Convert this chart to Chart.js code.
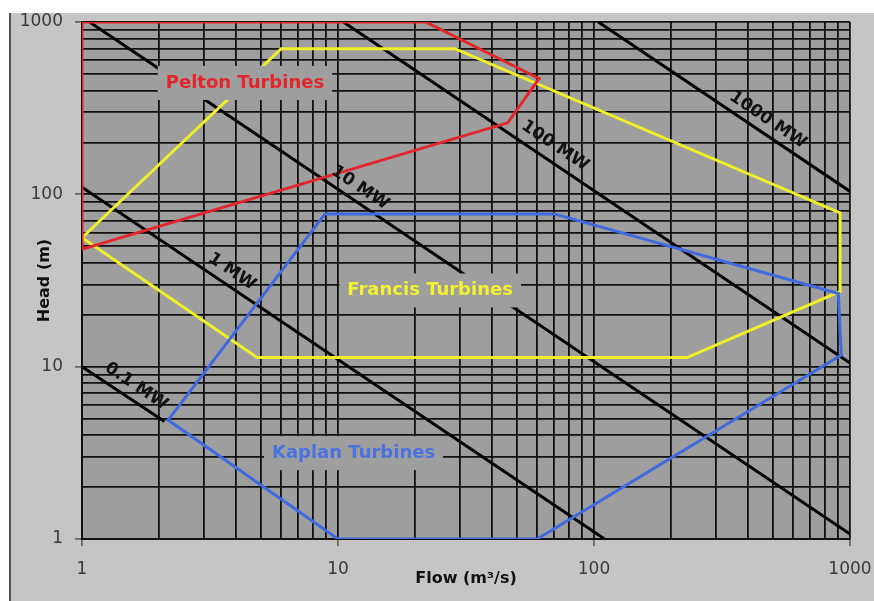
<!DOCTYPE html>
<html>
<head>
<meta charset="utf-8">
<script src="https://cdn.jsdelivr.net/npm/chart.js@4/dist/chart.umd.min.js"></script>
<style>
  body { margin: 0; background: #fff; }
  canvas { display: block; }
</style>
</head>
<body>
<canvas id="turbineChart" width="874" height="601"></canvas>
<script>
// grid values (log scale, 1..9 per decade) and the ones that get a label
const gridValues = [1, 2, 3, 4, 5, 6, 7, 8, 9, 10, 20, 30, 40, 50, 60, 70, 80, 90,
  100, 200, 300, 400, 500, 600, 700, 800, 900, 1000];
const majorTicks = [1, 10, 100, 1000];

// turbine envelopes, flow (m3/s) and head (m)
const peltonFlow = [1, 22, 61, 46, 1, 1];
const peltonHead = [1000, 1000, 470, 260, 48, 1000];
const francisFlow = [1, 6, 28.6, 915, 915, 231, 4.83, 1];
const francisHead = [56, 700, 700, 78, 27.3, 11.3, 11.3, 56];
const kaplanFlow = [8.9, 70, 900, 925, 60, 10, 2.17, 8.9];
const kaplanHead = [77, 77, 26.6, 11.7, 1, 1, 4.9, 77];

// constant power lines
const mw01Flow = [1, 2.1], mw01Head = [10, 4.8];
const mw1Flow = [1, 110], mw1Head = [110, 1];
const mw10Flow = [1.07, 1000], mw10Head = [1000, 1.07];
const mw100Flow = [10.5, 1000], mw100Head = [1000, 10.5];
const mw1000Flow = [104, 1000], mw1000Head = [1000, 104];

// text labels placed at data coordinates
const turbineNames = ["Pelton Turbines", "Francis Turbines", "Kaplan Turbines"];
const turbineLabelFlow = [4.33, 22.9, 11.5];
const turbineLabelHead = [443, 27.7, 3.15];
const turbineColors = ["#e4262c", "#f2f22e", "#4a72e2"];

const powerNames = ["0.1 MW", "1 MW", "10 MW", "100 MW", "1000 MW"];
const powerLabelFlow = [1.63, 3.85, 12.2, 70.4, 478];
const powerLabelHead = [7.69, 35.6, 109, 191, 270];

function points(xs, ys) {
  return xs.map((x, i) => ({x: x, y: ys[i]}));
}

function lineSet(xs, ys, color) {
  return {
    data: points(xs, ys),
    showLine: true,
    borderColor: color,
    backgroundColor: color,
    borderWidth: 3,
    pointRadius: 0,
    fill: false,
    tension: 0
  };
}

const backgroundPlugin = {
  id: "background",
  beforeDraw(chart) {
    const ctx = chart.ctx;
    const area = chart.chartArea;
    ctx.save();
    ctx.fillStyle = "#ffffff";
    ctx.fillRect(0, 0, chart.width, chart.height);
    ctx.fillStyle = "#c5c5c5";
    ctx.fillRect(10, 13, chart.width - 10, chart.height - 13);
    ctx.strokeStyle = "#555";
    ctx.lineWidth = 2;
    ctx.beginPath();
    ctx.moveTo(10, 13);
    ctx.lineTo(10, chart.height);
    ctx.stroke();
    ctx.fillStyle = "#9e9e9e";
    ctx.fillRect(area.left, area.top, area.right - area.left, area.bottom - area.top);
    ctx.restore();
  }
};

const labelPlugin = {
  id: "labels",
  afterDatasetsDraw(chart) {
    const ctx = chart.ctx;
    const xs = chart.scales.x, ys = chart.scales.y;
    ctx.save();
    ctx.textAlign = "center";
    ctx.textBaseline = "middle";

    ctx.font = "bold 18px 'DejaVu Sans'";
    turbineNames.forEach((name, i) => {
      const px = xs.getPixelForValue(turbineLabelFlow[i]);
      const py = ys.getPixelForValue(turbineLabelHead[i]);
      const w = ctx.measureText(name).width + 16;
      ctx.fillStyle = "#9e9e9e";
      ctx.fillRect(px - w / 2, py - 17, w, 34);
      ctx.fillStyle = turbineColors[i];
      ctx.fillText(name, px, py);
    });

    // slope of a constant power line on this log-log grid
    const angle = Math.atan2(ys.getPixelForValue(1) - ys.getPixelForValue(10),
      xs.getPixelForValue(10) - xs.getPixelForValue(1));
    ctx.font = "bold 17px 'DejaVu Sans'";
    ctx.fillStyle = "#111";
    powerNames.forEach((name, i) => {
      const px = xs.getPixelForValue(powerLabelFlow[i]);
      const py = ys.getPixelForValue(powerLabelHead[i]);
      ctx.save();
      ctx.translate(px, py);
      ctx.rotate(angle);
      ctx.fillText(name, 0, 0);
      ctx.restore();
    });
    ctx.restore();
  }
};

function axis(titleText, titlePadding, fitSize, horizontal) {
  return {
    type: "logarithmic",
    min: 1,
    max: 1000,
    afterBuildTicks: (scale) => {
      scale.ticks = gridValues.map(v => ({value: v, major: majorTicks.includes(v)}));
    },
    afterFit: (scale) => {
      if (horizontal) {
        scale.height = fitSize;
        scale.paddingLeft = 0;
        scale.paddingRight = 0;
      } else {
        scale.width = fitSize;
        scale.paddingTop = 0;
        scale.paddingBottom = 0;
      }
    },
    grid: {
      color: "#111",
      lineWidth: 1.8,
      tickLength: 7,
      tickWidth: 1.5,
      tickColor: (c) => (c.tick && majorTicks.includes(c.tick.value)) ? "#555" : "rgba(0,0,0,0)"
    },
    border: {display: true, color: "#111", width: 2},
    ticks: {
      autoSkip: false,
      maxRotation: 0,
      padding: horizontal ? 13 : 12,
      color: "#3a3a3a",
      font: {family: "'DejaVu Sans'", size: 17},
      callback: (value) => majorTicks.includes(value) ? String(value) : ""
    },
    title: {
      display: true,
      text: titleText,
      color: "#111",
      font: {family: "'DejaVu Sans'", size: 16, weight: "bold"},
      padding: titlePadding
    }
  };
}

new Chart(document.getElementById("turbineChart"), {
  type: "scatter",
  data: {
    datasets: [
      lineSet(peltonFlow, peltonHead, "#e4262c"),
      lineSet(kaplanFlow, kaplanHead, "#3f6ae0"),
      lineSet(francisFlow, francisHead, "#f0f028"),
      lineSet(mw01Flow, mw01Head, "#000"),
      lineSet(mw1Flow, mw1Head, "#000"),
      lineSet(mw10Flow, mw10Head, "#000"),
      lineSet(mw100Flow, mw100Head, "#000"),
      lineSet(mw1000Flow, mw1000Head, "#000")
    ]
  },
  options: {
    responsive: false,
    animation: false,
    devicePixelRatio: 1,
    layout: {padding: {left: 10, right: 24, top: 22, bottom: 0}},
    plugins: {
      legend: {display: false},
      tooltip: {enabled: false}
    },
    scales: {
      x: axis("Flow (m³/s)", {top: 0, bottom: 13}, 62, true),
      y: axis("Head (m)", {top: 25, bottom: 0}, 72, false)
    }
  },
  plugins: [backgroundPlugin, labelPlugin]
});
</script>
</body>
</html>
